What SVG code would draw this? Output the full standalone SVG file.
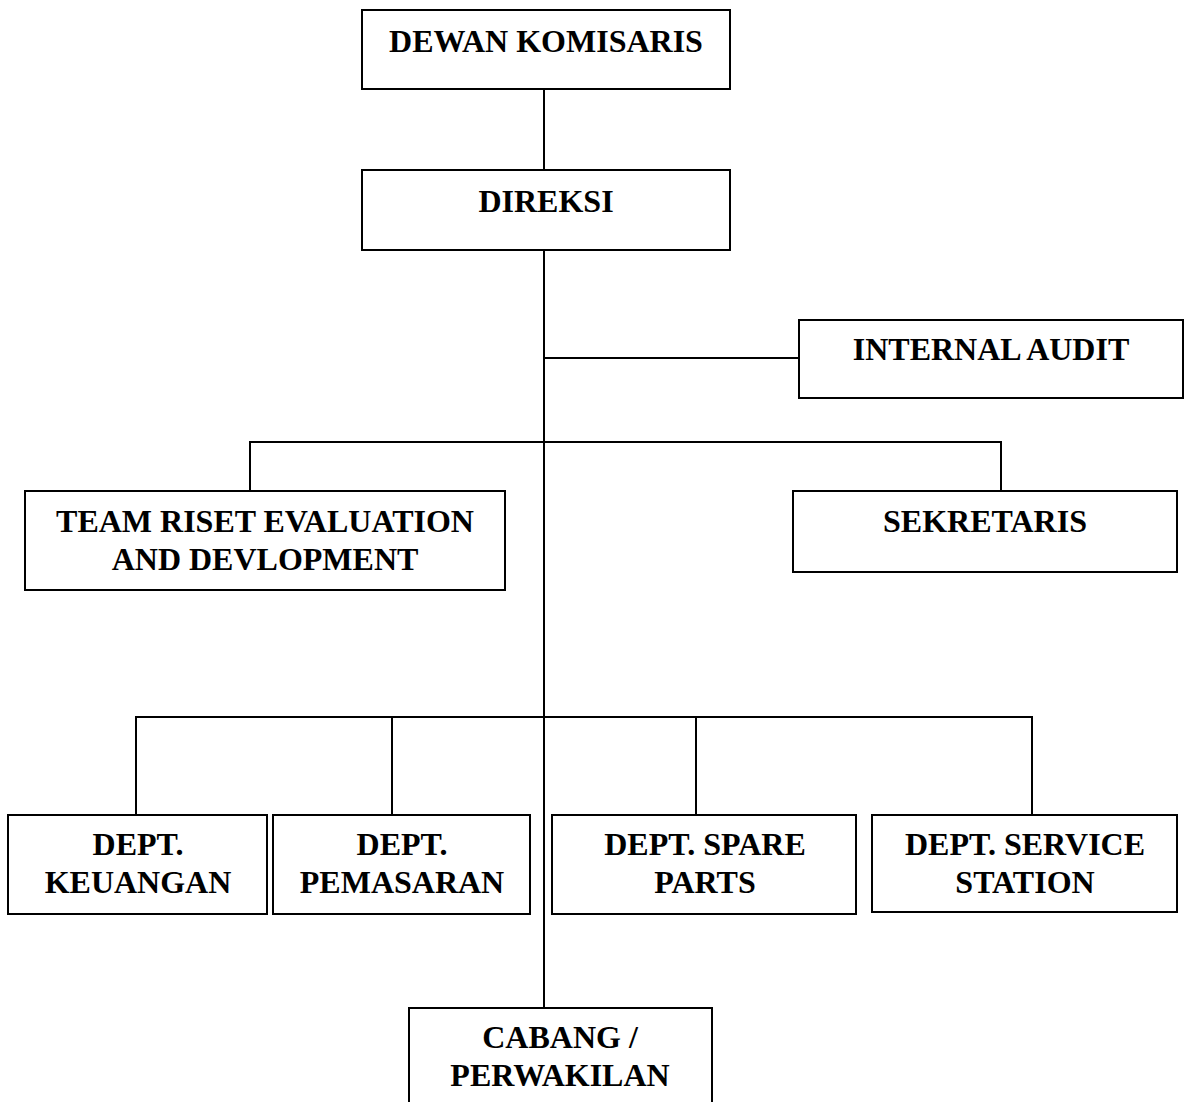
<svg xmlns="http://www.w3.org/2000/svg" width="1185" height="1102" viewBox="0 0 1185 1102">
<style>
.box{fill:#fff;stroke:#000;stroke-width:2}
.t{font-family:"Liberation Serif","Times New Roman",serif;font-weight:bold;font-size:32px;fill:#000;text-anchor:middle}
.c{fill:none;stroke:#000;stroke-width:2}
</style>
<rect width="1185" height="1102" fill="#fff"/>
<g id="connectors">
<path class="c" d="M544 89V170M544 250V1008"/>
<path class="c" d="M544 358H799"/>
<path class="c" d="M250 491V442H1001V491"/>
<path class="c" d="M136 815V717H1032V815M392 717V815M696 717V815"/>
</g>
<g id="dewan"><rect class="box" x="362" y="10" width="368" height="79"/><text class="t" x="546" y="52">DEWAN KOMISARIS</text></g>
<g id="direksi"><rect class="box" x="362" y="170" width="368" height="80"/><text class="t" x="546" y="212">DIREKSI</text></g>
<g id="internal-audit"><rect class="box" x="799" y="320" width="384" height="78"/><text class="t" x="991" y="360">INTERNAL AUDIT</text></g>
<g id="team-riset"><rect class="box" x="25" y="491" width="480" height="99"/><text class="t" x="265" y="532">TEAM RISET EVALUATION</text><text class="t" x="265" y="570">AND DEVLOPMENT</text></g>
<g id="sekretaris"><rect class="box" x="793" y="491" width="384" height="81"/><text class="t" x="985" y="532">SEKRETARIS</text></g>
<g id="dept-keuangan"><rect class="box" x="8" y="815" width="259" height="99"/><text class="t" x="138" y="855">DEPT.</text><text class="t" x="138" y="893">KEUANGAN</text></g>
<g id="dept-pemasaran"><rect class="box" x="273" y="815" width="257" height="99"/><text class="t" x="402" y="855">DEPT.</text><text class="t" x="402" y="893">PEMASARAN</text></g>
<g id="dept-spare-parts"><rect class="box" x="552" y="815" width="304" height="99"/><text class="t" x="705" y="855">DEPT. SPARE</text><text class="t" x="705" y="893">PARTS</text></g>
<g id="dept-service-station"><rect class="box" x="872" y="815" width="305" height="97"/><text class="t" x="1025" y="855">DEPT. SERVICE</text><text class="t" x="1025" y="893">STATION</text></g>
<g id="cabang"><rect class="box" x="409" y="1008" width="303" height="100"/><text class="t" x="560" y="1048">CABANG /</text><text class="t" x="560" y="1086">PERWAKILAN</text></g>
</svg>
